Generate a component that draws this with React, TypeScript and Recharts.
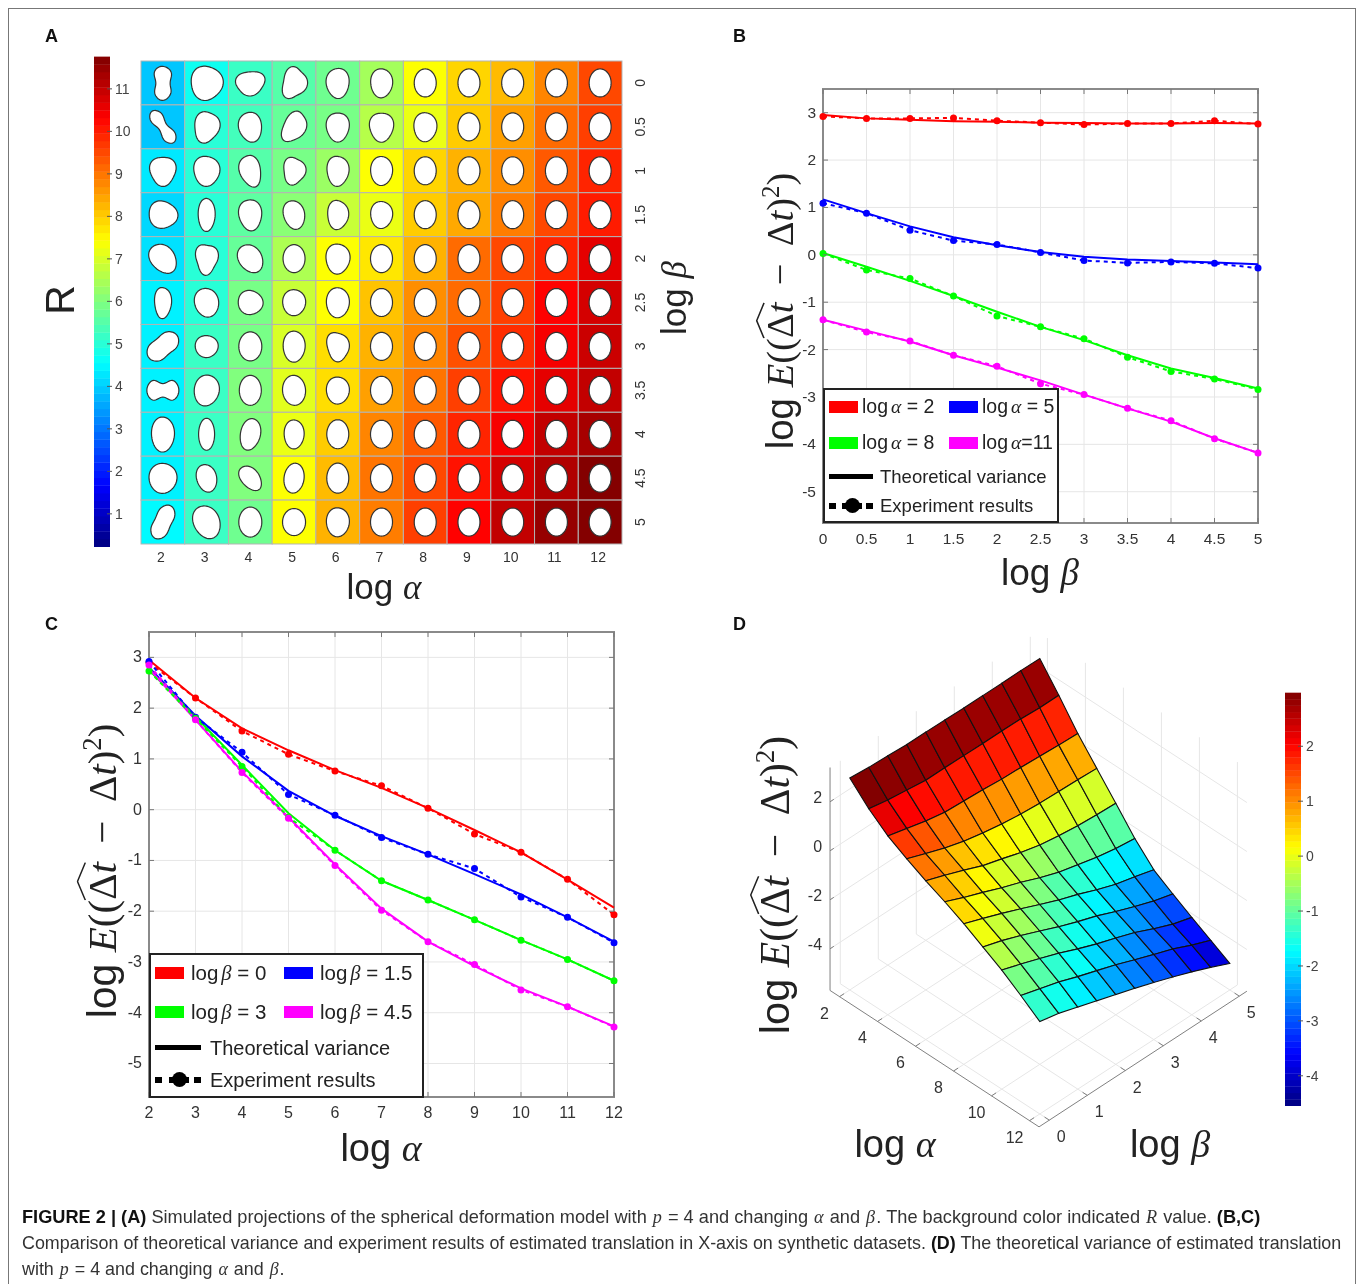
import React from 'react';
import { CartesianGrid, ComposedChart, Line, ReferenceArea, ReferenceLine, Scatter, ScatterChart, XAxis, YAxis } from 'recharts';

const SANS = '"Liberation Sans", Arial, sans-serif';
const SERIF = '"Liberation Serif", serif';

const ALPHA_TICKS = [2, 3, 4, 5, 6, 7, 8, 9, 10, 11, 12];
const BETA_TICKS = [0, 0.5, 1, 1.5, 2, 2.5, 3, 3.5, 4, 4.5, 5];
const LOG_VAR_TICKS = [-5, -4, -3, -2, -1, 0, 1, 2, 3];
const R_TICKS = [1, 2, 3, 4, 5, 6, 7, 8, 9, 10, 11];
const SURFACE_TICKS = [-4, -3, -2, -1, 0, 1, 2];
const SURFACE_ALPHA_TICKS = [2, 4, 6, 8, 10, 12];
const SURFACE_BETA_TICKS = [0, 1, 2, 3, 4, 5];

// panel A, one row per log beta, one value per log alpha
const R_VALUES = [
  [3.9, 4.7, 5.2, 5.5, 5.8, 6.4, 7.4, 7.9, 8.2, 8.8, 9.5],
  [3.9, 5.0, 5.3, 5.7, 5.9, 6.6, 7.2, 8.0, 8.5, 9.1, 9.6],
  [4.3, 5.0, 5.5, 5.9, 6.3, 7.4, 7.9, 8.3, 8.7, 9.3, 9.9],
  [4.1, 5.0, 5.6, 6.1, 6.8, 7.2, 8.0, 8.4, 8.9, 9.5, 10.0],
  [4.2, 5.0, 5.7, 6.5, 7.4, 7.7, 8.3, 9.1, 9.5, 9.9, 10.6],
  [4.4, 5.0, 5.9, 6.8, 7.4, 8.1, 8.7, 9.1, 9.6, 10.3, 10.8],
  [4.4, 5.2, 5.9, 7.0, 7.8, 8.3, 8.8, 9.4, 9.8, 10.4, 10.9],
  [4.4, 5.2, 6.0, 7.1, 7.8, 8.5, 9.0, 9.6, 10.1, 10.6, 11.0],
  [4.4, 5.2, 6.0, 7.2, 8.0, 8.8, 9.3, 9.9, 10.4, 11.0, 11.3],
  [4.4, 5.2, 6.0, 7.4, 8.2, 9.0, 9.5, 10.1, 10.8, 11.2, 11.7],
  [4.5, 5.2, 5.8, 7.4, 8.3, 8.9, 9.6, 10.3, 11.0, 11.5, 11.7],
];

// blob outlines: half width, half height, tilt, waist, bump, bump phase
type Blob = number[];
const ROUND_BLOB: Blob = [11, 14, 0, 0, 0, 0];
const BLOBS: Blob[][] = [
  [[11, 17, 0, 0.35, 0.03, 1], [16, 17, 0, 0, 0.05, 0.5], [14.5, 12, -10, 0, 0.08, 1.2], [12, 15.5, 15, 0, 0.12, 0.3], [11.5, 15, 0, 0, 0.04, 2], [11, 14.5, 0, 0, 0.03, 1]],
  [[9, 19, -35, 0.5, 0, 0], [12.5, 15.5, 10, 0, 0.08, 1], [11.5, 15, -10, 0, 0.04, 2], [11, 16, 30, 0, 0.08, 0.6], [11.5, 14.5, 0, 0, 0.05, 1.6], [12, 14.5, 0, 0, 0.06, 1.5], [11.5, 14.5, 0, 0, 0.03, 1]],
  [[13, 14.5, 0, 0, 0.08, 1.6], [13, 15, -5, 0, 0.05, 0.8], [10.5, 16, -15, 0, 0.06, 2], [11, 13.5, 0, 0, 0.1, 0.4], [11, 15, 0, 0, 0.05, 1], [11, 14.5, 0, 0, 0.02, 1]],
  [[14.5, 13.5, 20, 0, 0.05, 1], [8.5, 16.5, 0, 0, 0.02, 1], [11.5, 15.5, -5, 0, 0.05, 1.6], [10.5, 14.5, -15, 0, 0.03, 1], [10.5, 14.5, 0, 0, 0.05, 0.5], [11, 13.5, 0, 0, 0.03, 1]],
  [[12, 16, -40, 0, 0.03, 1], [11, 15, 0, 0, 0.12, 1.2], [11.5, 15, -35, 0, 0.02, 1], [11, 14, 0, 0, 0, 0], [12, 15, 0, 0, 0.04, 1]],
  [[8.5, 15.5, 0, 0, 0.05, 1], [12, 14.5, -15, 0, 0.02, 1], [12.5, 12, 20, 0, 0.03, 1], [11.5, 13, 0, 0, 0.02, 1], [11.5, 15, 0, 0, 0.02, 1]],
  [[12, 18, 50, 0.2, 0, 0], [11.5, 11, 0, 0, 0.02, 1], [11.5, 14.5, 0, 0, 0, 0], [11, 15.5, 0, 0, 0.02, 1], [11, 14.5, -10, 0, 0.08, 0.5]],
  [[13.5, 16, 90, 0.5, 0, 0], [12.5, 15.5, 10, 0, 0.02, 1], [11, 15, 0, 0, 0, 0], [11.5, 15, -5, 0, 0, 0], [11.5, 13.5, 0, 0, 0.02, 1]],
  [[11.5, 17.5, 0, 0, 0.02, 1], [8, 16, 0, 0, 0, 0], [10, 16, 12, 0, 0.02, 1], [10, 14.5, 0, 0, 0.02, 1], [11, 14.5, 0, 0, 0, 0]],
  [[14, 15, 0, 0, 0.02, 1], [10, 14, -15, 0, 0.02, 1], [9, 14, -40, 0, 0.03, 1], [10, 15, 8, 0, 0, 0], [11, 15, 0, 0, 0, 0]],
  [[10.5, 18, 25, 0.2, 0, 0], [13, 17, -25, 0, 0.02, 1], [11.5, 15, 0, 0, 0, 0], [11.5, 13.5, 0, 0, 0, 0], [11.5, 14.5, 0, 0, 0.02, 1]],
];

// panel B, one value per log beta
const B_THEORY_A2 = [2.95, 2.88, 2.85, 2.82, 2.81, 2.79, 2.78, 2.77, 2.77, 2.78, 2.77];
const B_EXP_A2 = [2.92, 2.88, 2.88, 2.89, 2.83, 2.79, 2.75, 2.77, 2.77, 2.83, 2.76];
const B_THEORY_A5 = [1.17, 0.88, 0.6, 0.37, 0.2, 0.06, -0.04, -0.1, -0.13, -0.16, -0.2];
const B_EXP_A5 = [1.09, 0.88, 0.52, 0.3, 0.22, 0.05, -0.12, -0.17, -0.15, -0.18, -0.28];
const B_THEORY_A8 = [0.04, -0.25, -0.55, -0.87, -1.2, -1.52, -1.8, -2.12, -2.4, -2.6, -2.82];
const B_EXP_A8 = [0.03, -0.32, -0.5, -0.87, -1.29, -1.52, -1.77, -2.16, -2.46, -2.62, -2.84];
const B_THEORY_A11 = [-1.37, -1.6, -1.83, -2.12, -2.38, -2.65, -2.95, -3.24, -3.52, -3.87, -4.18];
const B_EXP_A11 = [-1.37, -1.63, -1.82, -2.12, -2.35, -2.72, -2.95, -3.24, -3.5, -3.88, -4.18];

// panel C, one value per log alpha
const C_THEORY_B0 = [2.95, 2.2, 1.6, 1.17, 0.78, 0.43, 0.03, -0.4, -0.84, -1.38, -1.93];
const C_EXP_B0 = [2.9, 2.2, 1.55, 1.09, 0.76, 0.47, 0.03, -0.48, -0.84, -1.37, -2.07];
const C_THEORY_B15 = [2.8, 1.85, 1.05, 0.37, -0.12, -0.52, -0.88, -1.27, -1.67, -2.12, -2.6];
const C_EXP_B15 = [2.92, 1.82, 1.13, 0.3, -0.11, -0.55, -0.88, -1.16, -1.72, -2.12, -2.62];
const C_THEORY_B3 = [2.75, 1.83, 0.88, -0.07, -0.8, -1.4, -1.78, -2.17, -2.57, -2.95, -3.37];
const C_EXP_B3 = [2.73, 1.8, 0.85, -0.15, -0.8, -1.4, -1.78, -2.17, -2.57, -2.95, -3.37];
const C_THEORY_B45 = [2.78, 1.77, 0.75, -0.15, -1.08, -1.95, -2.6, -3.08, -3.52, -3.88, -4.27];
const C_EXP_B45 = [2.85, 1.77, 0.73, -0.17, -1.1, -1.98, -2.6, -3.05, -3.55, -3.88, -4.28];

// panel D, one row per log alpha, one value per log beta
const SURFACE_Z = [
  [2.95, 2.88, 2.85, 2.8, 2.8, 2.79, 2.77, 2.77, 2.77, 2.78, 2.77],
  [2.2, 2.05, 1.95, 1.85, 1.85, 1.84, 1.83, 1.83, 1.82, 1.77, 1.77],
  [1.6, 1.4, 1.2, 1.05, 1, 0.95, 0.88, 0.85, 0.8, 0.75, 0.72],
  [1.17, 0.88, 0.6, 0.37, 0.2, 0.06, -0.04, -0.1, -0.13, -0.16, -0.2],
  [0.78, 0.5, 0.2, -0.12, -0.35, -0.6, -0.8, -0.92, -1.02, -1.08, -1.12],
  [0.43, 0.1, -0.2, -0.52, -0.8, -1.12, -1.4, -1.6, -1.8, -1.95, -2.05],
  [0.04, -0.25, -0.55, -0.87, -1.2, -1.52, -1.8, -2.12, -2.4, -2.6, -2.82],
  [-0.4, -0.65, -0.95, -1.27, -1.6, -1.9, -2.17, -2.5, -2.8, -3.08, -3.3],
  [-0.84, -1.1, -1.38, -1.67, -2, -2.3, -2.57, -2.85, -3.2, -3.52, -3.75],
  [-1.37, -1.6, -1.83, -2.12, -2.38, -2.65, -2.95, -3.24, -3.52, -3.87, -4.18],
  [-1.93, -2.1, -2.35, -2.6, -2.85, -3.1, -3.37, -3.65, -3.95, -4.27, -4.62],
];

const SERIES_COLORS = ['#ff0000', '#0000ff', '#00ff00', '#ff00ff'];

const bRows = BETA_TICKS.map((beta, i) => ({
  x: beta,
  t0: B_THEORY_A2[i], e0: B_EXP_A2[i],
  t1: B_THEORY_A5[i], e1: B_EXP_A5[i],
  t2: B_THEORY_A8[i], e2: B_EXP_A8[i],
  t3: B_THEORY_A11[i], e3: B_EXP_A11[i],
}));

const cRows = ALPHA_TICKS.map((alpha, i) => ({
  x: alpha,
  t0: C_THEORY_B0[i], e0: C_EXP_B0[i],
  t1: C_THEORY_B15[i], e1: C_EXP_B15[i],
  t2: C_THEORY_B3[i], e2: C_EXP_B3[i],
  t3: C_THEORY_B45[i], e3: C_EXP_B45[i],
}));

function jet(t: number) {
  const f = (c: number) => Math.round(255 * Math.max(0, Math.min(1, 1.5 - Math.abs(4 * t - c))));
  return `rgb(${f(3)},${f(2)},${f(1)})`;
}

function blobPath(blob: Blob) {
  const [rx, ry, tilt, waist, bump, phase] = blob;
  const rot = (tilt * Math.PI) / 180;
  const pts: string[] = [];
  for (let i = 0; i < 72; i++) {
    const t = (i / 72) * Math.PI * 2;
    const r = 1 + bump * Math.cos(3 * t + phase);
    const c = Math.cos(t);
    const x = rx * c * r * (1 - waist * Math.pow(c, 8));
    const y = ry * Math.sin(t) * r;
    pts.push(`${(x * Math.cos(rot) - y * Math.sin(rot)).toFixed(2)},${(x * Math.sin(rot) + y * Math.cos(rot)).toFixed(2)}`);
  }
  return 'M' + pts.join('L') + 'Z';
}

function LogLabel({ cx, cy, greek, size, rotate }: any) {
  return (
    <div style={{ position: 'absolute', left: cx, top: cy, transform: `translate(-50%,-50%) rotate(${rotate || 0}deg)`, whiteSpace: 'nowrap', fontFamily: SANS, fontSize: size, color: '#222', lineHeight: 1 }}>
      log <span style={{ fontFamily: SERIF, fontStyle: 'italic' }}>{greek}</span>
    </div>
  );
}

function VarianceLabel({ cx, cy, size }: any) {
  const serif = { fontFamily: SERIF };
  return (
    <div style={{ position: 'absolute', left: cx, top: cy, transform: 'translate(-50%,-50%) rotate(-90deg)', whiteSpace: 'nowrap', fontFamily: SANS, fontSize: size, color: '#222', lineHeight: 1 }}>
      log <span style={{ ...serif, fontStyle: 'italic' }}>E</span>
      <span style={serif}>((</span>
      <span style={{ position: 'relative', display: 'inline-block', ...serif }}>
        Δ<i>t</i>
        <svg width="100%" height={size * 0.24} viewBox="0 0 100 20" preserveAspectRatio="none" style={{ position: 'absolute', left: 0, top: -size * 0.12 }}>
          <path d="M0,18 L50,2 L100,18" fill="none" stroke="#222" strokeWidth={1.5} vectorEffect="non-scaling-stroke" />
        </svg>
      </span>
      <span style={serif}><span style={{ margin: '0 0.45em' }}>−</span>Δ<i>t</i>)<sup style={{ fontSize: size * 0.65, lineHeight: 0 }}>2</sup>)</span>
    </div>
  );
}

function SeriesLegend({ left, top, width, height, symbol, rows, col2, textX, lineW, lineTextX, y3, y4, lineFont, labelFont }: any) {
  const sw = (x: number, y: number, c: string) => <div style={{ position: 'absolute', left: x, top: y - 6, width: 29, height: 12, background: c }} />;
  const txt = (x: number, y: number, size: number, body: any) => (
    <div style={{ position: 'absolute', left: x, top: y - size * 0.6, fontSize: size, lineHeight: `${size * 1.2}px`, whiteSpace: 'nowrap', color: '#222' }}>{body}</div>
  );
  const lab = (v: string) => (
    <>log<i style={{ fontFamily: SERIF, marginLeft: 3 }}>{symbol}</i>{v.length === 2 ? `=${v}` : ` = ${v}`}</>
  );
  return (
    <div style={{ position: 'absolute', left, top, width, height, background: '#fff', border: '2px solid #222', boxSizing: 'border-box', fontFamily: SANS }}>
      {rows.map((r: any, i: number) => (
        <React.Fragment key={i}>
          {sw(r.col ? col2 : 4, r.y, SERIES_COLORS[i])}
          {txt((r.col ? col2 : 4) + textX, r.y, labelFont, lab(r.v))}
        </React.Fragment>
      ))}
      <div style={{ position: 'absolute', left: 4, top: y3 - 3, width: lineW, height: 5, background: '#000' }} />
      {txt(lineTextX, y3, lineFont, 'Theoretical variance')}
      <div style={{ position: 'absolute', left: 4, top: y4 - 3, width: 7, height: 6, background: '#000' }} />
      <div style={{ position: 'absolute', left: lineW / 2 - 5, top: y4 - 3, width: 20, height: 6, background: '#000' }} />
      <div style={{ position: 'absolute', left: lineW / 2 - 2, top: y4 - 8, width: 15, height: 15, borderRadius: 8, background: '#000' }} />
      <div style={{ position: 'absolute', left: lineW - 3, top: y4 - 3, width: 7, height: 6, background: '#000' }} />
      {txt(lineTextX, y4, lineFont, 'Experiment results')}
    </div>
  );
}

function LinePanel({ left, top, rows, xDomain, xTicks, plotW, plotH, fontSize }: any) {
  const yMin = -5.66;
  const yMax = 3.5;
  const xTick = ({ x, y, payload }: any) => (
    <g>
      <line x1={x} x2={x} y1={y} y2={y - 5} stroke="#777" />
      <line x1={x} x2={x} y1={y - plotH} y2={y - plotH + 5} stroke="#777" />
      <text x={x} y={y + 21} textAnchor="middle" fontSize={fontSize} fontFamily={SANS} fill="#333">{payload.value}</text>
    </g>
  );
  const yTick = ({ x, y, payload }: any) => (
    <g>
      <line x1={x} x2={x + 5} y1={y} y2={y} stroke="#777" />
      <line x1={x + plotW} x2={x + plotW - 5} y1={y} y2={y} stroke="#777" />
      <text x={x - 7} y={y + 5} textAnchor="end" fontSize={fontSize} fontFamily={SANS} fill="#333">{payload.value}</text>
    </g>
  );
  return (
    <div style={{ position: 'absolute', left, top }}>
      <ComposedChart width={plotW + 70} height={plotH + 40} data={rows} margin={{ top: 10, right: 20, bottom: 5, left: 10 }}>
        <CartesianGrid stroke="#e6e6e6" verticalValues={xTicks} horizontalValues={LOG_VAR_TICKS} />
        <XAxis dataKey="x" type="number" domain={xDomain} ticks={xTicks} interval={0} height={25} tickSize={0} tickMargin={0} tickLine={false} axisLine={false} tick={xTick} allowDecimals />
        <YAxis type="number" domain={[yMin, yMax]} ticks={LOG_VAR_TICKS} interval={0} width={40} tickSize={0} tickMargin={0} tickLine={false} axisLine={false} tick={yTick} allowDataOverflow />
        <ReferenceArea x1={xDomain[0]} x2={xDomain[1]} y1={yMin} y2={yMax} fill="none" stroke="#8a8a8a" strokeWidth={2} ifOverflow="visible" />
        {SERIES_COLORS.map((c, i) => (
          <Line key={`t${i}`} type="linear" dataKey={`t${i}`} stroke={c} strokeWidth={2} dot={false} isAnimationActive={false} />
        ))}
        {SERIES_COLORS.map((c, i) => (
          <Line key={`e${i}`} type="linear" dataKey={`e${i}`} stroke={c} strokeWidth={2} strokeDasharray="4 4" dot={{ r: 3.5, fill: c, stroke: c, strokeWidth: 0 }} isAnimationActive={false} />
        ))}
      </ComposedChart>
    </div>
  );
}

function ColorBar({ left, top, barH, min, max, ticks }: any) {
  const levels = Array.from({ length: 64 }, (_, i) => i);
  const step = (max - min) / 64;
  const tick = ({ x, y, payload }: any) => (
    <g>
      <line x1={x - 3} x2={x + 2} y1={y} y2={y} stroke="#555" />
      <text x={x + 5} y={y + 5} fontSize={14} fontFamily={SANS} fill="#444">{payload.value}</text>
    </g>
  );
  return (
    <div style={{ position: 'absolute', left, top }}>
      <ScatterChart width={60} height={barH + 4} margin={{ top: 2, right: 2, bottom: 2, left: 2 }}>
        <XAxis dataKey="x" type="number" domain={[0, 1]} hide />
        <YAxis dataKey="y" type="number" orientation="right" domain={[min, max]} ticks={ticks} interval={0} width={40} tickSize={0} tickMargin={0} tickLine={false} axisLine={false} tick={tick} allowDataOverflow />
        {levels.map((i) => (
          <ReferenceArea key={i} x1={0} x2={1} y1={min + i * step} y2={min + (i + 1.05) * step} fill={jet((i + 0.5) / 64)} fillOpacity={1} stroke="none" ifOverflow="visible" />
        ))}
        <Scatter data={[{ x: 0, y: min }]} shape={() => <g />} isAnimationActive={false} />
      </ScatterChart>
    </div>
  );
}

const heatCells = BETA_TICKS.flatMap((beta, j) =>
  ALPHA_TICKS.map((alpha, i) => ({ alpha, beta, r: R_VALUES[j][i], blob: BLOBS[j][i] || ROUND_BLOB }))
);

function HeatPanel() {
  const xTick = ({ x, y, payload }: any) => (
    <text x={x - 2} y={y + 18} textAnchor="middle" fontSize={14} fontFamily={SANS} fill="#333">{payload.value}</text>
  );
  const yTick = ({ x, y, payload }: any) => (
    <text transform={`translate(${x + 23},${y}) rotate(-90)`} textAnchor="middle" fontSize={14} fontFamily={SANS} fill="#333">{payload.value}</text>
  );
  return (
    <div style={{ position: 'absolute', left: 130, top: 50 }}>
      <ScatterChart width={540} height={540} margin={{ top: 11, right: 18, bottom: 16, left: 11 }}>
        <XAxis dataKey="alpha" type="number" domain={[1.5, 12.5]} ticks={ALPHA_TICKS} interval={0} height={30} tickSize={0} tickMargin={0} tickLine={false} axisLine={false} tick={xTick} />
        <YAxis dataKey="beta" type="number" orientation="right" reversed domain={[-0.25, 5.25]} ticks={BETA_TICKS} interval={0} width={30} tickSize={0} tickMargin={0} tickLine={false} axisLine={false} tick={yTick} />
        <Scatter
          data={heatCells}
          isAnimationActive={false}
          shape={(p: any) => (
            <rect x={p.cx - 21.86} y={p.cy - 21.95} width={43.72} height={43.9} fill={jet((p.payload.r - 0.22) / 11.53)} stroke="#b4b4b4" strokeWidth={1} />
          )}
        />
        <Scatter
          data={heatCells}
          isAnimationActive={false}
          shape={(p: any) => (
            <path d={blobPath(p.payload.blob)} transform={`translate(${p.cx},${p.cy})`} fill="#fff" stroke="#333" strokeWidth={1.2} />
          )}
        />
      </ScatterChart>
    </div>
  );
}

// panel D viewing projection, result is in page pixels
const project = (alpha: number, beta: number, z: number) => ({
  u: 811.8 + 19 * alpha + 38 * beta,
  v: 825.5 + 12.4 * alpha - 24.8 * beta - 24.5 * z,
});

const A_MIN = 1.5;
const A_MAX = 12.5;
const B_MIN = -0.27;
const B_MAX = 5.2;
const Z_MIN = -5.7;
const Z_MAX = 3.4;

const seg = (a: any, b: any) => [{ x: a.u, y: a.v }, { x: b.u, y: b.v }];

const surfaceGrid = [
  ...SURFACE_ALPHA_TICKS.map((a) => seg(project(a, B_MIN, Z_MIN), project(a, B_MAX, Z_MIN))),
  ...SURFACE_BETA_TICKS.map((b) => seg(project(A_MIN, b, Z_MIN), project(A_MAX, b, Z_MIN))),
  ...SURFACE_BETA_TICKS.map((b) => seg(project(A_MIN, b, Z_MIN), project(A_MIN, b, Z_MAX))),
  ...SURFACE_ALPHA_TICKS.map((a) => seg(project(a, B_MAX, Z_MIN), project(a, B_MAX, Z_MAX))),
  ...[-4, -2, 0, 2].map((z) => seg(project(A_MIN, B_MIN, z), project(A_MIN, B_MAX, z))),
  ...[-4, -2, 0, 2].map((z) => seg(project(A_MIN, B_MAX, z), project(A_MAX, B_MAX, z))),
];

const surfaceAxes = [
  seg(project(A_MIN, B_MIN, Z_MIN), project(A_MIN, B_MIN, Z_MAX)),
  seg(project(A_MIN, B_MIN, Z_MIN), project(A_MAX, B_MIN, Z_MIN)),
  seg(project(A_MAX, B_MIN, Z_MIN), project(A_MAX, B_MAX, Z_MIN)),
  ...SURFACE_ALPHA_TICKS.map((a) => seg(project(a, B_MIN, Z_MIN), project(a, B_MIN + 0.12, Z_MIN))),
  ...SURFACE_BETA_TICKS.map((b) => seg(project(A_MAX, b, Z_MIN), project(A_MAX - 0.25, b, Z_MIN))),
  ...[-4, -2, 0, 2].map((z) => seg(project(A_MIN, B_MIN, z), project(A_MIN, B_MIN + 0.1, z))),
];

const surfaceFacets = SURFACE_Z.slice(0, -1).flatMap((row, i) =>
  row.slice(0, -1).map((z, j) => {
    const a0 = ALPHA_TICKS[i];
    const a1 = ALPHA_TICKS[i + 1];
    const b0 = BETA_TICKS[j];
    const b1 = BETA_TICKS[j + 1];
    const corners = [
      project(a0, b0, z),
      project(a1, b0, SURFACE_Z[i + 1][j]),
      project(a1, b1, SURFACE_Z[i + 1][j + 1]),
      project(a0, b1, SURFACE_Z[i][j + 1]),
    ];
    return { u: corners[0].u, v: corners[0].v, corners, z };
  })
);

const surfaceLabels = [
  ...SURFACE_ALPHA_TICKS.map((a) => {
    const p = project(a, B_MIN, Z_MIN);
    return { u: p.u - 15, v: p.v + 17, text: a, anchor: 'middle' };
  }),
  ...SURFACE_BETA_TICKS.map((b) => {
    const p = project(A_MAX, b, Z_MIN);
    return { u: p.u + 12, v: p.v + 17, text: b, anchor: 'middle' };
  }),
  ...[-4, -2, 0, 2].map((z) => {
    const p = project(A_MIN, B_MIN, z);
    return { u: p.u - 8, v: p.v - 4, text: z, anchor: 'end' };
  }),
];

function SurfacePanel() {
  return (
    <div style={{ position: 'absolute', left: 790, top: 620 }}>
      <ScatterChart width={490} height={540} margin={{ top: 0, right: 0, bottom: 0, left: 0 }}>
        <XAxis dataKey="u" type="number" domain={[790, 1280]} hide />
        <YAxis dataKey="v" type="number" domain={[620, 1160]} reversed hide />
        {surfaceGrid.map((s, i) => (
          <ReferenceLine key={`g${i}`} segment={s} stroke="#e6e6e6" strokeWidth={1} ifOverflow="visible" />
        ))}
        {surfaceAxes.map((s, i) => (
          <ReferenceLine key={`a${i}`} segment={s} stroke="#808080" strokeWidth={1} ifOverflow="visible" />
        ))}
        <Scatter
          data={surfaceFacets}
          isAnimationActive={false}
          shape={(p: any) => {
            const { corners, z } = p.payload;
            const d = corners.map((c: any, k: number) => `${k ? 'L' : 'M'}${p.cx + c.u - corners[0].u},${p.cy + c.v - corners[0].v}`).join('') + 'Z';
            return <path d={d} fill={jet((z + 4.55) / 7.52)} stroke="#111" strokeWidth={1.1} />;
          }}
        />
        <Scatter
          data={surfaceLabels}
          isAnimationActive={false}
          shape={(p: any) => (
            <text x={p.cx} y={p.cy + 5} textAnchor={p.payload.anchor} fontSize={16} fontFamily={SANS} fill="#333">{p.payload.text}</text>
          )}
        />
      </ScatterChart>
    </div>
  );
}

const bLegendRows = [{ v: '2', y: 17, col: 0 }, { v: '5', y: 17, col: 1 }, { v: '8', y: 53, col: 0 }, { v: '11', y: 53, col: 1 }];
const cLegendRows = [{ v: '0', y: 18, col: 0 }, { v: '1.5', y: 18, col: 1 }, { v: '3', y: 57, col: 0 }, { v: '4.5', y: 57, col: 1 }];

const panelLetter = (text: string, left: number, top: number) => (
  <div style={{ position: 'absolute', left, top, fontFamily: SANS, fontWeight: 700, fontSize: 18, lineHeight: '20px', color: '#111' }}>{text}</div>
);

const captionLine = (top: number, size: number, body: any) => (
  <div style={{ position: 'absolute', left: 22, top, fontFamily: SANS, fontSize: size, lineHeight: '20px', color: '#333', whiteSpace: 'nowrap' }}>{body}</div>
);

const mi = (s: string) => <i style={{ fontFamily: SERIF, margin: '0 1px' }}>{s}</i>;

export default function App() {
  return (
    <div style={{ position: 'absolute', left: 0, top: 0, width: 1360, height: 1284, background: '#fff', overflow: 'hidden', filter: 'blur(0.4px)' }}>
      <div style={{ position: 'absolute', left: 8, top: 8, width: 1348, height: 1300, border: '1px solid #777', boxSizing: 'border-box' }} />
      {panelLetter('A', 45, 26)}
      {panelLetter('B', 733, 26)}
      {panelLetter('C', 45, 614)}
      {panelLetter('D', 733, 614)}

      <ColorBar left={92} top={55} barH={490} min={0.22} max={11.75} ticks={R_TICKS} />
      <HeatPanel />
      <div style={{ position: 'absolute', left: 60, top: 300, transform: 'translate(-50%,-50%) rotate(-90deg)', fontFamily: SANS, fontSize: 41, lineHeight: 1, color: '#222' }}>R</div>
      <LogLabel cx={384} cy={587} greek="α" size={35} />
      <LogLabel cx={674} cy={298} greek="β" size={35} rotate={-90} />

      <LinePanel left={773} top={79} rows={bRows} xDomain={[0, 5]} xTicks={BETA_TICKS} plotW={435} plotH={434} fontSize={15.5} />
      <VarianceLabel cx={780} cy={311} size={38.5} />
      <LogLabel cx={1040} cy={572} greek="β" size={37} />
      <SeriesLegend left={823} top={388} width={236} height={135} symbol="α" rows={bLegendRows} col2={124} textX={33} lineW={44} lineTextX={55} y3={87} y4={116} lineFont={18.5} labelFont={19.5} />

      <LinePanel left={99} top={622} rows={cRows} xDomain={[2, 12]} xTicks={ALPHA_TICKS} plotW={465} plotH={465} fontSize={16} />
      <VarianceLabel cx={102} cy={871} size={41} />
      <LogLabel cx={381} cy={1148} greek="α" size={38} />
      <SeriesLegend left={149} top={953} width={275} height={145} symbol="β" rows={cLegendRows} col2={133} textX={36} lineW={46} lineTextX={59} y3={93} y4={125} lineFont={20} labelFont={20.5} />

      <SurfacePanel />
      <ColorBar left={1283} top={691} barH={413} min={-4.55} max={2.97} ticks={SURFACE_TICKS} />
      <VarianceLabel cx={775} cy={885} size={41.5} />
      <LogLabel cx={895} cy={1144} greek="α" size={38} />
      <LogLabel cx={1170} cy={1144} greek="β" size={38} />

      {captionLine(1207, 18.2, <><b style={{ color: '#111' }}>FIGURE 2 | (A)</b> Simulated projections of the spherical deformation model with {mi('p')} = 4 and changing {mi('α')} and {mi('β')}. The background color indicated {mi('R')} value. <b style={{ color: '#111' }}>(B,C)</b></>)}
      {captionLine(1233, 17.9, <>Comparison of theoretical variance and experiment results of estimated translation in X-axis on synthetic datasets. <b style={{ color: '#111' }}>(D)</b> The theoretical variance of estimated translation</>)}
      {captionLine(1259, 17.9, <>with {mi('p')} = 4 and changing {mi('α')} and {mi('β')}.</>)}
    </div>
  );
}
